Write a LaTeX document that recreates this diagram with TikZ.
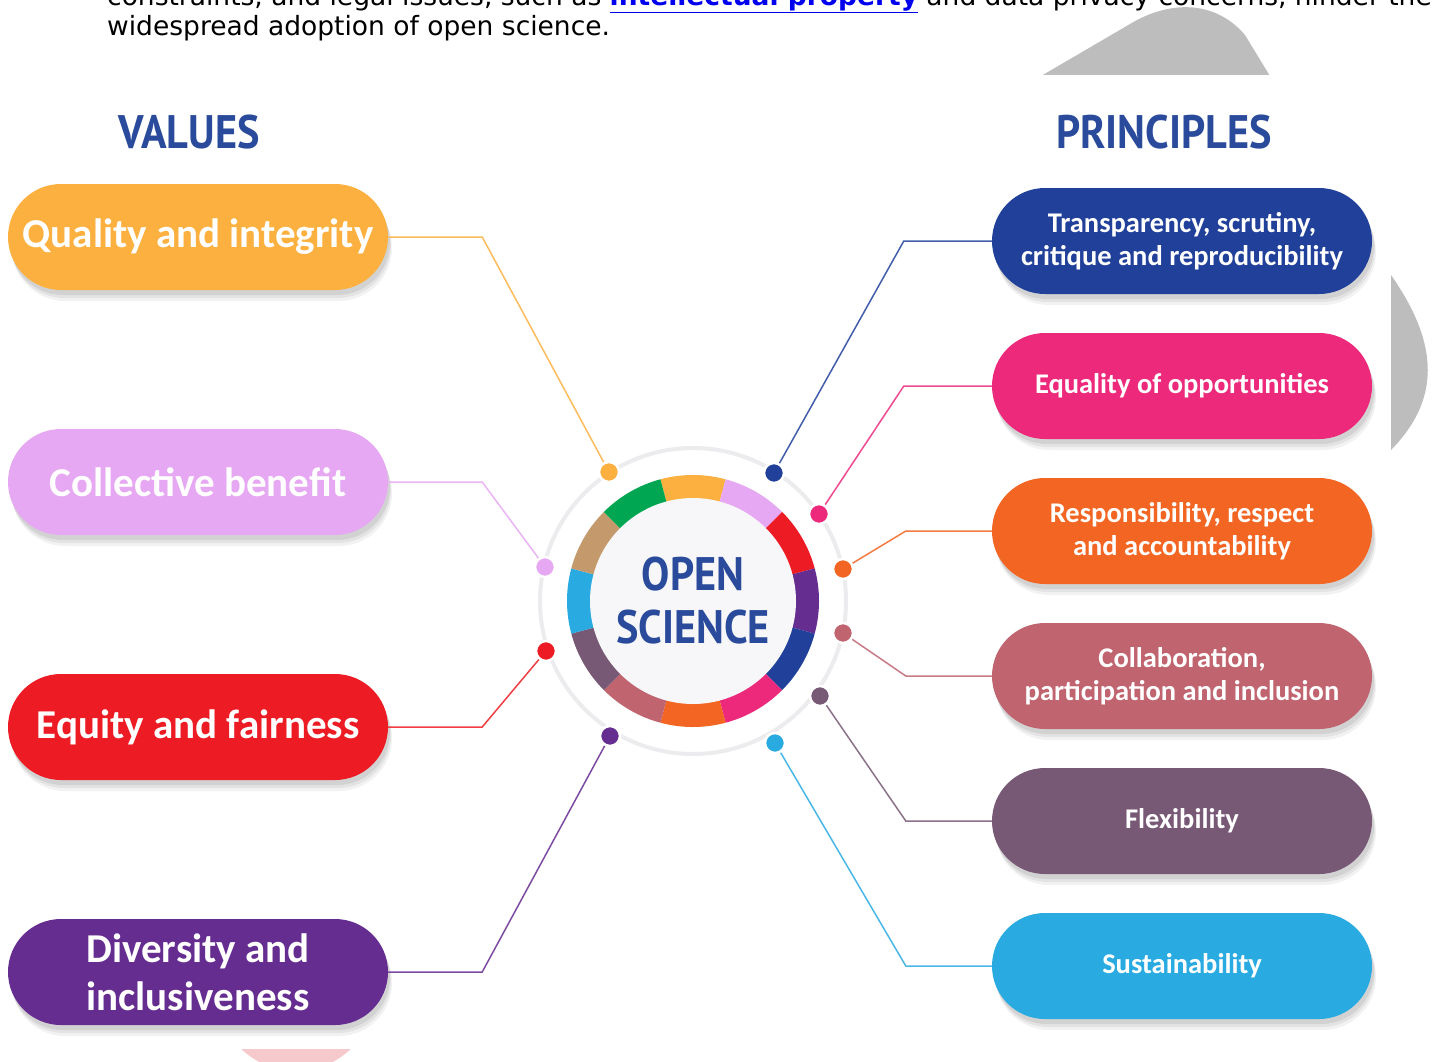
\documentclass[tikz,border=0pt]{standalone}
\usepackage{fontspec}
\setmainfont{DejaVu Sans}
\newfontfamily\pillfont{Carlito}
\newfontfamily\headfont{PT Sans}[FakeStretch=0.9]
\usetikzlibrary{shadows}

\definecolor{qcol}{HTML}{FBB040}
\definecolor{vcol}{HTML}{E6A8F2}
\definecolor{rcol}{HTML}{ED1C24}
\definecolor{pcol}{HTML}{662D91}
\definecolor{bcol}{HTML}{21409A}
\definecolor{mcol}{HTML}{EC297B}
\definecolor{ocol}{HTML}{F26522}
\definecolor{rocol}{HTML}{C0646F}
\definecolor{gcol}{HTML}{775975}
\definecolor{ccol}{HTML}{29ABE2}
\definecolor{tcol}{HTML}{C49A6C}
\definecolor{grcol}{HTML}{00A651}
\definecolor{titleblue}{HTML}{2A4B9B}
\definecolor{linkblue}{HTML}{0000EE}
\definecolor{blobgray}{HTML}{BDBDBD}
\definecolor{pinkblob}{HTML}{F6CACC}
\definecolor{ringgray}{HTML}{ECECEF}
\definecolor{discfill}{HTML}{F7F7F9}

\begin{document}
\begin{tikzpicture}[x=1pt, y=-1pt, node distance=245pt,
    softshadow/.style={
        general shadow={shadow xshift=4pt, shadow yshift=-11pt, opacity=.05, fill=black},
        general shadow={shadow xshift=3pt, shadow yshift=-8pt, opacity=.06, fill=black},
        general shadow={shadow xshift=2pt, shadow yshift=-5pt, opacity=.07, fill=black}},
    pill/.style={rectangle, rounded corners=53pt, fill=#1, minimum width=380pt,
        minimum height=106pt, inner sep=0pt, text=white, align=center, softshadow},
    vpill/.style={pill=#1, font=\pillfont\bfseries\fontsize{41}{48}\selectfont},
    ppill/.style={pill=#1, font=\pillfont\bfseries\fontsize{28.5}{33}\selectfont},
    head/.style={anchor=base, inner sep=0pt, text=titleblue,
        font=\headfont\bfseries\fontsize{47}{53}\selectfont},
    dot/.style={circle, fill=#1, draw=white, line width=2.5pt, minimum size=20pt,
        inner sep=0pt, drop shadow={shadow xshift=0pt, shadow yshift=-1pt, opacity=.12, fill=black}},
    link/.style={draw=#1!85, line width=1.5pt}]

    \useasboundingbox (0,0) rectangle (1440,1061);
    \clip (0,0) rectangle (1440,1061);

    % shapes behind the picture
    \fill[blobgray] (1000,100) -- (1130,24) .. controls (1170,0) and (1215,0) .. (1245,35)
        -- (1391,275) .. controls (1440,345) and (1440,400) .. (1391,450) -- (1000,450) -- cycle;
    \fill[pinkblob] (296,992) circle[radius=79];
    \fill[white] (0,75) rectangle (1391,1049);

    % text above the picture
    \node[anchor=base west, inner sep=0pt, font=\fontsize{26.5}{30}\selectfont] (txt1) at (107,5)
        {constraints, and legal issues, such as \textcolor{linkblue}{\bfseries\underline{intellectual property}} and data privacy concerns, hinder the};
    \node[anchor=base west, inner sep=0pt, font=\fontsize{26.5}{30}\selectfont] (txt2) at (107,35)
        {widespread adoption of open science.};

    \node[head] (VAL) at (189,148) {VALUES};
    \node[head] (PRI) at (1164,148) {PRINCIPLES};

    % centre
    \coordinate (O) at (693,601);
    \draw[ringgray, line width=4pt] (O) circle[radius=153];
    \begin{scope}[shift={(O)}, y=1pt]
        \foreach \c [count=\i] in {qcol,vcol,rcol,pcol,bcol,mcol,ocol,rocol,gcol,ccol,tcol,grcol} {
            \pgfmathsetmacro\s{135-30*\i}
            \pgfmathsetmacro\e{105-30*\i}
            \fill[\c] (\s:126) arc[start angle=\s, end angle=\e, radius=126]
                -- (\e:102) arc[start angle=\e, end angle=\s, radius=102] -- cycle;
        }
    \end{scope}
    \node[circle, fill=discfill, minimum size=206pt, inner sep=0pt, align=center, text=titleblue,
        font=\headfont\bfseries\fontsize{47}{53}\selectfont] (OS) at (O) {OPEN\\SCIENCE};

    % values
    \node[vpill=qcol] (QI) at (198,237) {Quality and integrity};
    \node[vpill=vcol, below of=QI] (CB) {Collective benefit};
    \node[vpill=rcol, below of=CB] (EF) {Equity and fairness};
    \node[vpill=pcol, below of=EF] (DI) {Diversity and\\inclusiveness};

    % principles
    \begin{scope}[node distance=145pt]
        \node[ppill=bcol] (TS) at (1182,241) {Transparency, scrutiny,\\critique and reproducibility};
        \node[ppill=mcol, below of=TS] (EO) {Equality of opportunities};
        \node[ppill=ocol, below of=EO] (RR) {Responsibility, respect\\and accountability};
        \node[ppill=rocol, below of=RR] (CP) {Collaboration,\\participation and inclusion};
        \node[ppill=gcol, below of=CP] (FX) {Flexibility};
        \node[ppill=ccol, below of=FX] (SU) {Sustainability};
    \end{scope}

    % dots on the ring
    \node[dot=qcol] (dQI) at (609,472) {};
    \node[dot=vcol] (dCB) at (545,567) {};
    \node[dot=rcol] (dEF) at (546,651) {};
    \node[dot=pcol] (dDI) at (610,736) {};
    \node[dot=bcol] (dTS) at (774,473) {};
    \node[dot=mcol] (dEO) at (819,514) {};
    \node[dot=ocol] (dRR) at (843,569) {};
    \node[dot=rocol] (dCP) at (843,633) {};
    \node[dot=gcol] (dFX) at (820,696) {};
    \node[dot=ccol] (dSU) at (775,743) {};

    \draw[link=qcol] (QI.east) -- ++(94,0) -- (dQI);
    \draw[link=vcol] (CB.east) -- ++(94,0) -- (dCB);
    \draw[link=rcol] (EF.east) -- ++(94,0) -- (dEF);
    \draw[link=pcol] (DI.east) -- ++(94,0) -- (dDI);
    \draw[link=bcol] (TS.west) -- ++(-88,0) -- (dTS);
    \draw[link=mcol] (EO.west) -- ++(-88,0) -- (dEO);
    \draw[link=ocol] (RR.west) -- ++(-86,0) -- (dRR);
    \draw[link=rocol] (CP.west) -- ++(-86,0) -- (dCP);
    \draw[link=gcol] (FX.west) -- ++(-86,0) -- (dFX);
    \draw[link=ccol] (SU.west) -- ++(-86,0) -- (dSU);
\end{tikzpicture}
\end{document}
